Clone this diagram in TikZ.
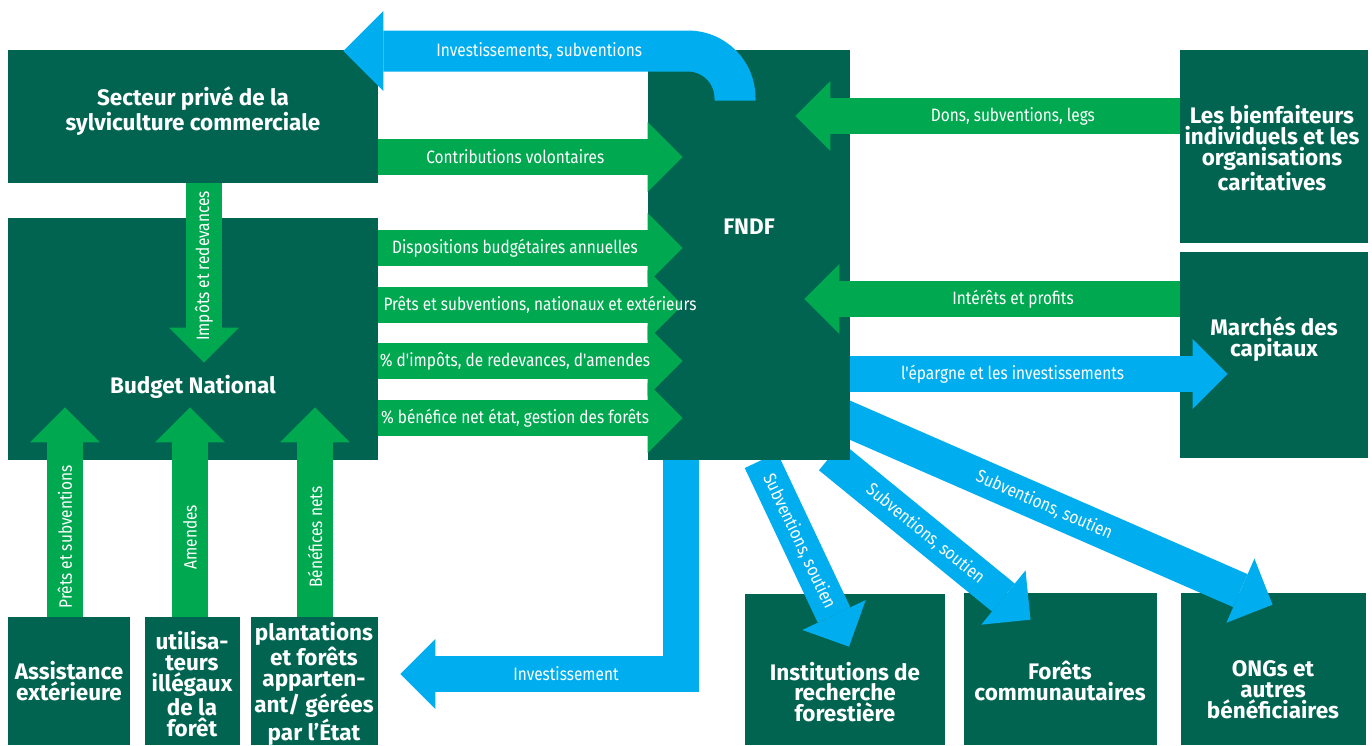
\documentclass[tikz,border=0pt]{standalone}
\usepackage{fontspec}
\setmainfont{Fira Sans}
\newfontfamily\arrowfont[FakeStretch=0.86]{Fira Sans}
\usepackage{tikz}
\usetikzlibrary{positioning}
\usetikzlibrary{arrows.meta}
\usetikzlibrary{calc}
\usetikzlibrary{backgrounds,fit}

\definecolor{fndfgreen}{RGB}{0,100,80}
\definecolor{flowgreen}{RGB}{0,168,80}
\definecolor{flowblue}{RGB}{0,174,239}

\begin{document}
\begin{tikzpicture}[x=0.02cm,y=-0.02cm,
% Boxes and titles style
    box/.style={rectangle,fill=fndfgreen,inner sep=0pt},
    title/.style={text=white,align=center,inner sep=0pt,
		font=\bfseries\fontsize{12.8}{11.9}\selectfont},
% Flow arrows style
    flow/.style={line width=0.72cm,
		-{Triangle[length=0.7cm,width=1.4cm,line width=0pt]}},
    gflow/.style={flow,draw=flowgreen},
    bflow/.style={flow,draw=flowblue},
% Label style
    lab/.style={text=white,inner sep=0pt,
		font=\arrowfont\fontsize{10.2}{11}\selectfont},
    ]
  \useasboundingbox (0,0) rectangle (1372,745);

% Boxes
  \node (secteur) [box,fit={(8,50) (378,183)}] {};
  \node (budget)  [box,fit={(8,218) (378,460)}] {};
  \node (fndf)    [box,fit={(648,50) (850,460)}] {};
  \node (bienf)   [box,fit={(1180,50) (1368,243)}] {};
  \node (marches) [box,fit={(1180,252) (1368,458)}] {};
  \node (assist)  [box,fit={(8,617) (130,745)}] {};
  \node (illeg)   [box,fit={(145,617) (240,745)}] {};
  \node (plant)   [box,fit={(251,617) (378,745)}] {};

% Flows going out of the FNDF, under its box but over the receivers
\begin{pgfonlayer}{background}
  \node (instit)  [box,fit={(745,594) (945,745)}] {};
  \node (commun)  [box,fit={(964,593) (1157,745)}] {};
  \node (ongs)    [box,fit={(1181,593) (1366,745)}] {};
  \draw[bflow] ([xshift=0.24cm]fndf.south) -- ($(instit.north)+(4,53)$)
    node[lab,sloped,pos=.435] (institflow) {Subventions, soutien};
  \draw[bflow] ($(fndf.south east)+(-20,-4)$) -- ($(commun.north)+(-30,27)$)
    node[lab,sloped,pos=.475] (communflow) {Subventions, soutien};
  \draw[bflow] ($(fndf.east)+(-10,161)$) -- ($(ongs.north)+(-1,12)$)
    node[lab,sloped,pos=.472] (ongsflow) {Subventions, soutien};
\end{pgfonlayer}

  \node (secteurlbl) [title] at (193,111) {Secteur privé de la\\sylviculture commerciale};
  \node (budgetlbl)  [title] at (193,387) {Budget National};
  \node (fndflbl)    [title] at (749,227) {FNDF};
  \node (bienflbl)   [title] at (1272,148) {Les bienfaiteurs\\individuels et les\\organisations\\caritatives};
  \node (marcheslbl) [title] at (1274,339) {Marchés des\\capitaux};
  \node (assistlbl)  [title] at (69,681) {Assistance\\extérieure};
  \node (illeglbl)   [title] at (192,684) {utilisa-\\teurs\\illégaux\\de la\\forêt};
  \node (plantlbl)   [title] at (314,684) {plantations\\et forêts\\apparten-\\ant/ gérées\\par l'État};
  \node (institlbl)  [title] at (845,692) {Institutions de\\recherche\\forestière};
  \node (communlbl)  [title] at (1060,681) {Forêts\\communautaires};
  \node (ongslbl)    [title] at (1273,690) {ONGs et\\autres\\bénéficiaires};

  \draw[bflow] (fndf.east |- 0,374) -- ($(marches.west |- 0,374)+(48,0)$)
    node[lab,pos=.43] (epargneflow) {l'épargne et les investissements};
  \draw[bflow] ([xshift=-1.36cm]fndf.south) |- ($(plant.east)+(22,-7)$)
    node[lab,pos=.705] (investflow) {Investissement};
  \draw[bflow,line width=0.82cm,rounded corners=0.94cm,
    -{Triangle[length=0.8cm,width=1.6cm,line width=0pt]}]
    ($(fndf.north -| 735,0)+(0,51)$) |- ($(secteur.east |- 0,51)+(-35,0)$)
    node[lab,pos=.75] (subvflow) {Investissements, subventions};

% Flows coming into the FNDF
  \draw[gflow] (secteur.east |- 0,157) -- ($(fndf.west |- 0,157)+(35,0)$)
    node[lab,pos=.45] (contribflow) {Contributions volontaires};
  \foreach \y/\x/\txt in {248/515/Dispositions budgétaires annuelles,
      305/540/{Prêts et subventions, nationaux et extérieurs},
      361/515/{\% d'impôts, de redevances, d'amendes},
      418/515/{\% bénéfice net état, gestion des forêts}}
    \draw[gflow] (budget.east |- 0,\y) -- ($(fndf.west |- 0,\y)+(35,0)$)
      node[lab] (budgetflow\y) at (\x,\y) {\txt};
  \draw[gflow] (bienf.west |- 0,116) -- ($(fndf.east |- 0,116)+(-55,0)$)
    node[lab,pos=.434] (donsflow) {Dons, subventions, legs};
  \draw[gflow] (marches.west |- 0,299) -- ($(fndf.east |- 0,299)+(-46,0)$)
    node[lab,pos=.444] (interflow) {Intérêts et profits};

% Flows into the national budget
  \draw[gflow] (secteur.south -| 204,0) -- ($(budget.north -| 204,0)+(0,145)$)
    node[lab,rotate=90] (impotflow) at (204,266) {Impôts et redevances};
  \foreach \src/\x/\txt in {assist/65/Prêts et subventions,
      illeg/190/Amendes, plant/315/Bénéfices nets}
    \draw[gflow] (\src.north -| \x,0) -- ($(budget.south -| \x,0)+(0,-53)$)
      node[lab,rotate=90,pos=.38] (\src flow) {\txt};

\end{tikzpicture}
\end{document}
